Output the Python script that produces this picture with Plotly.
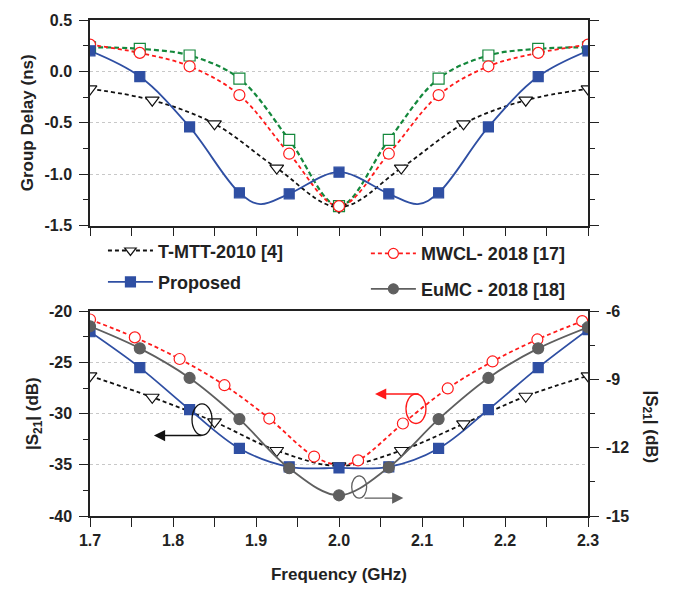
import plotly.graph_objects as go

# ---------------- data ----------------
freq_sq = [1.70, 1.76, 1.82, 1.88, 1.94, 2.00, 2.06, 2.12, 2.18, 2.24, 2.30]
freq_tri = [1.70, 1.775, 1.85, 1.925, 2.00, 2.075, 2.15, 2.225, 2.30]
freq_circ = [1.700, 1.754, 1.808, 1.862, 1.916, 1.970, 2.023, 2.077, 2.131, 2.185, 2.239, 2.293]

# Group delay (ns)
gd_proposed = [0.20, -0.05, -0.54, -1.18, -1.19, -0.98, -1.19, -1.18, -0.54, -0.05, 0.20]
gd_proposed_line_f = [1.70, 1.76, 1.82, 1.88, 1.905, 1.94, 2.00, 2.06, 2.095, 2.12, 2.18, 2.24, 2.30]
gd_proposed_line = [0.20, -0.05, -0.54, -1.18, -1.29, -1.19, -0.98, -1.19, -1.29, -1.18, -0.54, -0.05, 0.20]
gd_tmtt = [-0.17, -0.28, -0.51, -0.94, -1.32, -0.94, -0.51, -0.28, -0.17]
gd_mwcl = [0.26, 0.18, 0.05, -0.23, -0.80, -1.31, -0.80, -0.23, 0.05, 0.18, 0.26]
gd_eumc = [0.235, 0.22, 0.155, -0.07, -0.665, -1.31, -0.665, -0.07, 0.155, 0.22, 0.235]

# |S21| (dB)
s21_proposed = [-22.0, -25.5, -29.6, -33.4, -35.2, -35.3, -35.2, -33.4, -29.6, -25.5, -21.8]
s21_tmtt = [-26.3, -28.4, -30.8, -33.6, -35.1, -33.6, -31.0, -28.3, -26.3]
s21_mwcl = [-20.8, -22.55, -24.66, -27.22, -30.48, -34.19, -34.57, -30.96, -27.54, -24.9, -22.75, -20.96]
s21_mwcl_line_f = [1.700, 1.754, 1.808, 1.862, 1.916, 1.970, 2.000, 2.023, 2.077, 2.131, 2.185, 2.239, 2.293]
s21_mwcl_line = [-20.8, -22.55, -24.66, -27.22, -30.48, -34.19, -35.0, -34.57, -30.96, -27.54, -24.9, -22.75, -20.96]
s21_eumc_right = [-6.66, -7.63, -8.93, -10.74, -12.9, -14.09, -12.86, -10.74, -8.93, -7.63, -6.7]

names = ["T-MTT-2010 [4]", "Proposed", "MWCL- 2018 [17]", "EuMC - 2018 [18]"]

# tick labels
gd_tickvals = [0.5, 0.0, -0.5, -1.0, -1.5]
gd_ticktext = ["0.5", "0.0", "-0.5", "-1.0", "-1.5"]
s21_tickvals = [-20, -25, -30, -35, -40]
s21_ticktext = ["-20", "-25", "-30", "-35", "-40"]
s21r_tickvals = [-6, -9, -12, -15]
s21r_ticktext = ["-6", "-9", "-12", "-15"]

BLUE = "#2f4fa3"
RED = "#ff1a1a"
GREEN = "#14883c"
GRAY = "#5f5f5f"
BLACK = "#111111"
FONT = "Liberation Sans, Arial, sans-serif"

fig = go.Figure()

def line(x, y, color, dash, xa, ya, width=1.8):
    fig.add_trace(go.Scatter(x=x, y=y, mode="lines", xaxis=xa, yaxis=ya,
                             line=dict(color=color, dash=dash, width=width, shape="spline", smoothing=1.0),
                             showlegend=False, hoverinfo="skip"))

def marks(x, y, symbol, color, fill, xa, ya, size=10):
    fig.add_trace(go.Scatter(x=x, y=y, mode="markers", xaxis=xa, yaxis=ya,
                             marker=dict(symbol=symbol, size=size, color=fill,
                                         line=dict(color=color, width=1.2)),
                             showlegend=False, hoverinfo="skip"))

DASH = "4px,3px"
# ---- top panel ----
line(freq_tri, gd_tmtt, BLACK, DASH, "x", "y")
line(freq_sq, gd_eumc, GREEN, "5px,3px", "x", "y", 2.2)
line(freq_sq, gd_mwcl, RED, DASH, "x", "y")
line(gd_proposed_line_f, gd_proposed_line, BLUE, "solid", "x", "y")
marks(freq_tri, gd_tmtt, "triangle-down", BLACK, "white", "x", "y", 12)
marks(freq_sq, gd_eumc, "square", GREEN, "white", "x", "y", 11)
marks(freq_sq, gd_mwcl, "circle", RED, "white", "x", "y", 11)
marks(freq_sq, gd_proposed, "square", BLUE, BLUE, "x", "y", 10)

# ---- bottom panel ----
line(freq_tri, s21_tmtt, BLACK, DASH, "x2", "y2")
line(s21_mwcl_line_f, s21_mwcl_line, RED, DASH, "x2", "y2")
line(freq_sq, s21_proposed, BLUE, "solid", "x2", "y2")
line(freq_sq, s21_eumc_right, GRAY, "solid", "x2", "y3")
marks(freq_tri, s21_tmtt, "triangle-down", BLACK, "white", "x2", "y2", 12)
marks(freq_circ, s21_mwcl, "circle", RED, "white", "x2", "y2", 11)
marks(freq_sq, s21_proposed, "square", BLUE, BLUE, "x2", "y2", 10)
marks(freq_sq, s21_eumc_right, "circle", GRAY, GRAY, "x2", "y3", 11)

# ---- legend entries ----
leg = [
    (names[0], BLACK, DASH, "triangle-down", "white", "legend"),
    (names[1], BLUE, "solid", "square", BLUE, "legend"),
    (names[2], RED, DASH, "circle", "white", "legend2"),
    (names[3], GRAY, "solid", "circle", GRAY, "legend2"),
]
for i, (nm, col, dsh, sym, fill, lg) in enumerate(leg):
    fig.add_trace(go.Scatter(x=[None], y=[None], mode="lines+markers", name=nm, legend=lg,
                             xaxis="x2", yaxis="y2", legendgroup=str(i),
                             line=dict(color=col, dash=dsh, width=1.8),
                             marker=dict(symbol=sym, size=10, color=fill, line=dict(color=col, width=1.2))))

tickfont = dict(family=FONT, size=16, color="#222", weight="bold")
titlefont = dict(family=FONT, size=17, color="#222", weight="bold")
common_x = dict(range=[1.7, 2.3], dtick=0.1, tick0=1.7, ticks="outside", ticklen=9, tickwidth=1.3,
                showline=True, linecolor="#222", linewidth=1.5, mirror=True, showgrid=False, zeroline=False,
                minor=dict(dtick=0.05, ticks="outside", ticklen=9, tickwidth=1.3, tickcolor="#222"),
                tickcolor="#222", tickfont=tickfont)
common_y = dict(ticks="outside", ticklen=9, tickwidth=1.3, tickcolor="#222", showline=True, linecolor="#222",
                linewidth=1.5, showgrid=True, gridcolor="#c8c8c8", griddash="dot", gridwidth=1, zeroline=False,
                tickfont=tickfont, ticklabelstandoff=4, tickmode="array")

legfont = dict(family=FONT, size=18, color="#222", weight="bold")
fig.update_layout(
    width=675, height=593, margin=dict(l=90, r=87, t=15, b=74),
    paper_bgcolor="white", plot_bgcolor="white",
    xaxis=dict(common_x, domain=[0, 1], anchor="y", showticklabels=False),
    yaxis=dict(common_y, domain=[0.5853, 1], range=[-1.5, 0.5], tickvals=gd_tickvals, ticktext=gd_ticktext,
               mirror="ticks",
               minor=dict(tickmode="linear", tick0=0, dtick=0.25, ticks="outside", ticklen=5, tickcolor="#222"),
               anchor="x",
               title=dict(text="Group Delay (ns)", font=titlefont, standoff=7)),
    xaxis2=dict(common_x, domain=[0, 1], anchor="y2", tickformat=".1f",
                title=dict(text="Frequency (GHz)", font=titlefont, standoff=20)),
    yaxis2=dict(common_y, domain=[0, 0.4127], range=[-40, -20], tickvals=s21_tickvals, ticktext=s21_ticktext,
                mirror=True, anchor="x2",
                minor=dict(tickmode="linear", tick0=0, dtick=2.5, ticks="outside", ticklen=5, tickcolor="#222"),
                title=dict(text="|S<sub>21</sub>| (dB)", font=titlefont, standoff=6)),
    yaxis3=dict(ticks="outside", ticklen=9, tickwidth=1.3, tickcolor="#222", showline=True, linecolor="#222",
                linewidth=1.5, showgrid=False, zeroline=False, tickfont=tickfont, ticklabelstandoff=4,
                overlaying="y2", side="right", anchor="x2", range=[-15, -6],
                tickmode="array", tickvals=s21r_tickvals, ticktext=s21r_ticktext,
                minor=dict(tickmode="linear", tick0=0, dtick=1.5, ticks="outside", ticklen=5, tickcolor="#222")),
    legend=dict(x=0.026, y=0.572, xanchor="left", yanchor="top", bgcolor="rgba(0,0,0,0)",
                font=legfont, tracegroupgap=5, itemwidth=45),
    legend2=dict(x=0.554, y=0.566, xanchor="left", yanchor="top", bgcolor="rgba(0,0,0,0)",
                 font=legfont, tracegroupgap=9, itemwidth=45),
    showlegend=True,
)

# right axis title (reads top to bottom)
fig.add_annotation(text="|S<sub>21</sub>| (dB)", xref="paper", yref="paper", x=(650 - 90) / 498,
                   y=(519 - 428) / 504, showarrow=False, textangle=90,
                   font=titlefont, xanchor="center", yanchor="middle")

# ellipses
ell = [
    (1.8229, 1.8470, -29.04, -32.11, BLACK),
    (2.0807, 2.1048, -28.08, -30.96, RED),
    (2.0153, 2.0333, -36.07, -38.25, GRAY),
]
for x0, x1, y0, y1, c in ell:
    fig.add_shape(type="circle", xref="x2", yref="y2", x0=x0, x1=x1, y0=y0, y1=y1,
                  line=dict(color=c, width=1.3))
# arrows
arrs = [
    (1.836, -32.14, 1.777, BLACK),
    (2.0976, -28.08, 2.0434, RED),
    (2.029, -38.25, 2.0775, GRAY),
]
for xt, yv, xh, c in arrs:
    fig.add_annotation(x=xh, y=yv, ax=xt, ay=yv, xref="x2", yref="y2", axref="x2", ayref="y2",
                       showarrow=True, arrowhead=2, arrowsize=1.6, arrowwidth=1.4, arrowcolor=c, text="")

fig.write_html("out.html")
